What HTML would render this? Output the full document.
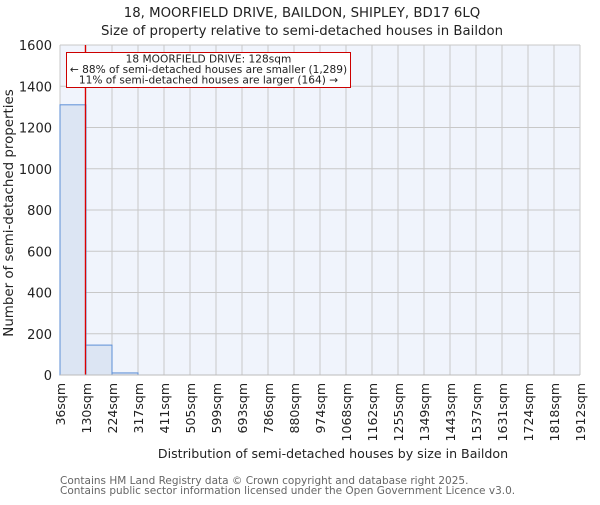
<!DOCTYPE html>
<html><head><meta charset="utf-8"><style>
body{margin:0;background:#fff;}
svg text{font-family:"DejaVu Sans","Liberation Sans",sans-serif;fill:#222;}
</style></head><body>
<svg id="chart" width="600" height="500">
<text x="302" y="17" font-size="13.3" text-anchor="middle">18, MOORFIELD DRIVE, BAILDON, SHIPLEY, BD17 6LQ</text>
<text x="302" y="35" font-size="13.3" text-anchor="middle">Size of property relative to semi-detached houses in Baildon</text>
<rect x="60" y="45" width="520" height="330" fill="#f0f4fc"/>
<g id="grid"></g><g id="bars"></g><g id="axes"></g>
<text transform="translate(13,213) rotate(-90)" font-size="13.4" text-anchor="middle">Number of semi-detached properties</text>
<text x="333" y="458" font-size="12.6" text-anchor="middle">Distribution of semi-detached houses by size in Baildon</text>
<text x="60" y="484" font-size="10.5" style="fill:#666">Contains HM Land Registry data © Crown copyright and database right 2025.</text>
<text x="60" y="494" font-size="10.5" style="fill:#666">Contains public sector information licensed under the Open Government Licence v3.0.</text>
</svg>
<script>
const binLabels=["36sqm","130sqm","224sqm","317sqm","411sqm","505sqm","599sqm","693sqm","786sqm","880sqm","974sqm","1068sqm","1162sqm","1255sqm","1349sqm","1443sqm","1537sqm","1631sqm","1724sqm","1818sqm","1912sqm"];
const binStarts=[36,130,224,317,411,505,599,693,786,880,974,1068,1162,1255,1349,1443,1537,1631,1724,1818];
const counts=[1310,145,10,0,0,0,0,0,0,0,0,0,0,0,0,0,0,0,0,0];
const yTicks=[0,200,400,600,800,1000,1200,1400,1600];
const subjectSize=128;
const NS="http://www.w3.org/2000/svg";
const X0=60,X1=580,Y0=375,Y1=45,YMAX=1600,nb=counts.length,bw=(X1-X0)/nb;
const xIdx=i=>X0+i*bw;
const ySc=v=>Y0-(v/YMAX)*(Y0-Y1);
function mk(t,a,p){const e=document.createElementNS(NS,t);for(const k in a)e.setAttribute(k,a[k]);p.appendChild(e);return e;}
const grid=document.getElementById('grid'),bars=document.getElementById('bars'),axes=document.getElementById('axes');
yTicks.forEach(v=>{
 const l=mk('line',{x1:X0,x2:X1,y1:ySc(v),y2:ySc(v),stroke:'#c8c8c8','stroke-width':1},grid);
 
 
 const t=mk('text',{x:X0-8,y:ySc(v)+5,'font-size':13,'text-anchor':'end'},axes);t.textContent=v;
 
 
});
binLabels.forEach((s,i)=>{
 const x=xIdx(i);
 const l=mk('line',{x1:x,x2:x,y1:Y1,y2:Y0,stroke:'#c8c8c8','stroke-width':1},grid);
 
 
 const t=mk('text',{transform:`translate(${x+5},383) rotate(-90)`,'font-size':12.5,'text-anchor':'end'},axes);t.textContent=s;
 
 
});
counts.forEach((c,i)=>{
 if(c<=0)return;
 const r=mk('rect',{x:xIdx(i),y:ySc(c),width:bw,height:Y0-ySc(c),fill:'#dce5f3',stroke:'#5b8ed6','stroke-width':1},bars);
 
 
});
let k=0;while(k<binStarts.length-1&&binStarts[k+1]<=subjectSize)k++;
const sx=xIdx(k)+bw*(subjectSize-binStarts[k])/(binStarts[k+1]-binStarts[k]);
const m=mk('line',{x1:sx,x2:sx,y1:Y1,y2:Y0,stroke:'#dd0000','stroke-width':1.3},axes);


const box=mk('rect',{x:66.5,y:52.5,width:284,height:35,fill:'#fff',stroke:'#cc0000','stroke-width':1},axes);


["18 MOORFIELD DRIVE: 128sqm","← 88% of semi-detached houses are smaller (1,289)","11% of semi-detached houses are larger (164) →"].forEach((s,i)=>{
 const t=mk('text',{x:208.5,y:62.5+i*10.5,'font-size':10.6,'text-anchor':'middle'},axes);t.textContent=s;
 
 
});
const ax=mk('line',{x1:X0,x2:X1,y1:Y0,y2:Y0,stroke:'#bbb','stroke-width':1},axes);


</script>
</body></html>
